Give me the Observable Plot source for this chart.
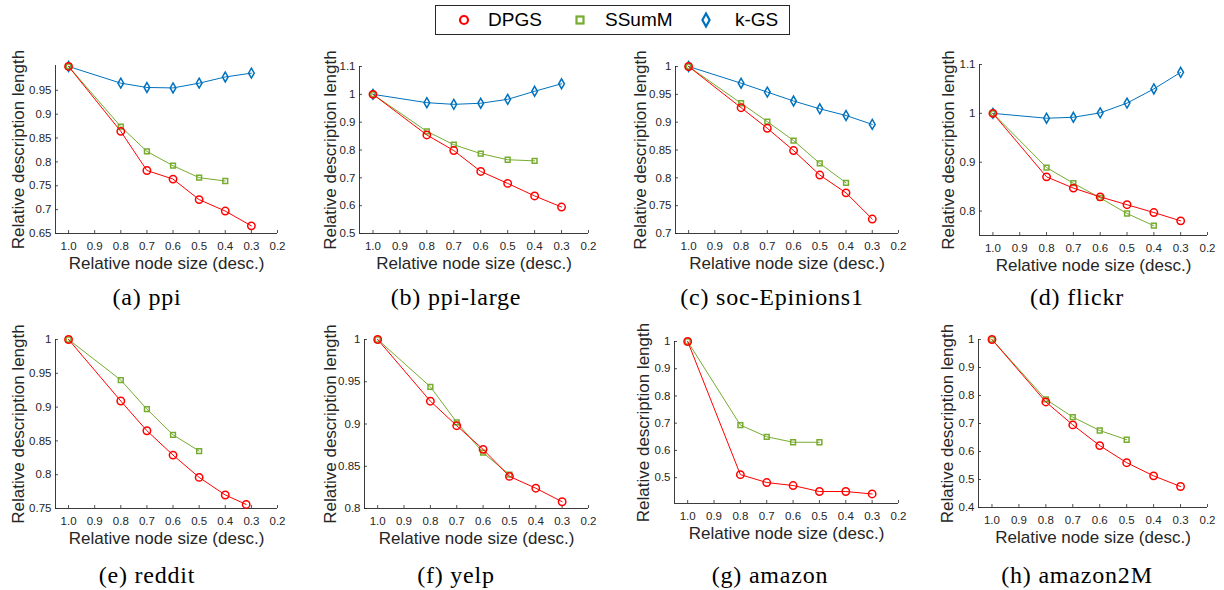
<!DOCTYPE html>
<html>
<head>
<meta charset="utf-8">
<script src="https://cdn.jsdelivr.net/npm/d3@7"></script>
<script src="https://cdn.jsdelivr.net/npm/@observablehq/plot@0.6"></script>
<style>
  html, body { margin: 0; padding: 0; background: #fff; }
  body { width: 1224px; height: 590px; position: relative; overflow: hidden; font-family: "Liberation Sans", Arial, sans-serif; }
  .panel { position: absolute; }
  .cap { position: absolute; font-family: "Liberation Serif", serif; font-size: 24px; line-height: 24px; letter-spacing: 0.8px; white-space: nowrap; transform: translateX(-50%); color: #000; }
  #legend { position: absolute; left: 435px; top: 5px; width: 353px; height: 28px; border: 1px solid #262626; background: #fff; }
  .litem { position: absolute; top: 0; height: 28px; line-height: 28px; font-size: 19px; color: #000; }
  .lsym { position: absolute; top: 5px; }
</style>
</head>
<body>
<div id="legend">
  <svg class="lsym" style="left:19px" width="18" height="18"><circle cx="9" cy="9" r="4" fill="none" stroke="#FF0000" stroke-width="2.2"/></svg>
  <span class="litem" style="left:52px">DPGS</span>
  <svg class="lsym" style="left:135px" width="18" height="18"><rect x="5.5" y="5.5" width="7" height="7" fill="none" stroke="#77AC30" stroke-width="2.2"/></svg>
  <span class="litem" style="left:169px">SSumM</span>
  <svg class="lsym" style="left:261px" width="18" height="18"><path d="M9,2.5 L12.6,9 L9,15.5 L5.4,9 Z" fill="none" stroke="#0072BD" stroke-width="2.2"/></svg>
  <span class="litem" style="left:299px">k-GS</span>
</div>
<script>
// ---------- data ----------
const datasets = ["ppi", "ppi-large", "soc-Epinions1", "flickr", "reddit", "yelp", "amazon", "amazon2M"];
const captionLetters = ["a", "b", "c", "d", "e", "f", "g", "h"];
const xSizes = [1.0, 0.8, 0.7, 0.6, 0.5, 0.4, 0.3];
const xSizesReddit = [1.0, 0.8, 0.7, 0.6, 0.5, 0.4, 0.32];
const xTicks = [1.0, 0.9, 0.8, 0.7, 0.6, 0.5, 0.4, 0.3, 0.2];

const dpgsPpi = [1, 0.864, 0.782, 0.764, 0.721, 0.697, 0.666];
const ssummPpi = [1, 0.874, 0.822, 0.792, 0.767, 0.760];
const kgsPpi = [1, 0.965, 0.956, 0.955, 0.965, 0.978, 0.986];

const dpgsPpiLarge = [1, 0.854, 0.798, 0.723, 0.680, 0.635, 0.595];
const ssummPpiLarge = [1, 0.867, 0.819, 0.787, 0.765, 0.761];
const kgsPpiLarge = [1, 0.970, 0.964, 0.968, 0.982, 1.011, 1.038];

const dpgsEpinions = [1, 0.926, 0.889, 0.849, 0.805, 0.773, 0.726];
const ssummEpinions = [1, 0.934, 0.901, 0.867, 0.826, 0.791];
const kgsEpinions = [1, 0.970, 0.954, 0.938, 0.924, 0.912, 0.896];

const dpgsFlickr = [1, 0.870, 0.847, 0.829, 0.813, 0.797, 0.780];
const ssummFlickr = [1, 0.889, 0.857, 0.827, 0.795, 0.770];
const kgsFlickr = [1, 0.990, 0.992, 1.001, 1.021, 1.050, 1.084];

const dpgsReddit = [1, 0.909, 0.865, 0.829, 0.796, 0.770, 0.756];
const ssummReddit = [1, 0.940, 0.897, 0.859, 0.835];

const dpgsYelp = [1, 0.927, 0.898, 0.870, 0.838, 0.824, 0.808];
const ssummYelp = [1, 0.944, 0.902, 0.866, 0.840];

const dpgsAmazon = [1, 0.511, 0.482, 0.471, 0.449, 0.449, 0.440];
const ssummAmazon = [1, 0.693, 0.650, 0.630, 0.630];

const dpgsAmazon2M = [1, 0.777, 0.695, 0.621, 0.560, 0.513, 0.475];
const ssummAmazon2M = [1, 0.786, 0.723, 0.675, 0.642];

const yTicksPpi = [0.65, 0.7, 0.75, 0.8, 0.85, 0.9, 0.95];
const yTicksPpiLarge = [0.5, 0.6, 0.7, 0.8, 0.9, 1, 1.1];
const yTicksEpinions = [0.7, 0.75, 0.8, 0.85, 0.9, 0.95, 1];
const yTicksFlickr = [0.8, 0.9, 1, 1.1];
const yTicksReddit = [0.75, 0.8, 0.85, 0.9, 0.95, 1];
const yTicksYelp = [0.8, 0.85, 0.9, 0.95, 1];
const yTicksAmazon = [0.5, 0.6, 0.7, 0.8, 0.9, 1];
const yTicksAmazon2M = [0.4, 0.5, 0.6, 0.7, 0.8, 0.9, 1];

const yDomains = [[0.65, 1.002], [0.5, 1.1], [0.7, 1], [0.75, 1.1], [0.75, 1], [0.8, 1], [0.405, 1], [0.4, 1]];

const xLabel = "Relative node size (desc.)";
const yLabel = "Relative description length";

// ---------- layout (page coordinates of each plot frame) ----------
const frames = [
  {l: 55,  r: 277,  t: 65,  b: 233, yl: 37, cx: 147,  cy: 285},
  {l: 359, r: 588,  t: 66,  b: 233, yl: 29, cx: 456,  cy: 285},
  {l: 675, r: 898,  t: 66,  b: 233, yl: 35, cx: 772,  cy: 285},
  {l: 979, r: 1207, t: 64,  b: 235, yl: 31, cx: 1077, cy: 285},
  {l: 55,  r: 277,  t: 339, b: 508, yl: 37, cx: 147,  cy: 563},
  {l: 364, r: 588,  t: 339, b: 508, yl: 34, cx: 456,  cy: 563},
  {l: 674, r: 898,  t: 341, b: 503, yl: 31, cx: 770,  cy: 563},
  {l: 978, r: 1207, t: 339, b: 507, yl: 31, cx: 1077, cy: 563}
];

const colors = {DPGS: "#FF0000", SSumM: "#77AC30", "k-GS": "#0072BD"};
const symbols = {DPGS: "circle", SSumM: "square", "k-GS": "diamond"};
const radii = {DPGS: 3.7, SSumM: 2.7, "k-GS": 3.0};

const seriesByPanel = [
  [["DPGS", xSizes, dpgsPpi], ["SSumM", xSizes, ssummPpi], ["k-GS", xSizes, kgsPpi]],
  [["DPGS", xSizes, dpgsPpiLarge], ["SSumM", xSizes, ssummPpiLarge], ["k-GS", xSizes, kgsPpiLarge]],
  [["DPGS", xSizes, dpgsEpinions], ["SSumM", xSizes, ssummEpinions], ["k-GS", xSizes, kgsEpinions]],
  [["DPGS", xSizes, dpgsFlickr], ["SSumM", xSizes, ssummFlickr], ["k-GS", xSizes, kgsFlickr]],
  [["DPGS", xSizesReddit, dpgsReddit], ["SSumM", xSizes, ssummReddit]],
  [["DPGS", xSizes, dpgsYelp], ["SSumM", xSizes, ssummYelp]],
  [["DPGS", xSizes, dpgsAmazon], ["SSumM", xSizes, ssummAmazon]],
  [["DPGS", xSizes, dpgsAmazon2M], ["SSumM", xSizes, ssummAmazon2M]]
];
const yTicksByPanel = [yTicksPpi, yTicksPpiLarge, yTicksEpinions, yTicksFlickr, yTicksReddit, yTicksYelp, yTicksAmazon, yTicksAmazon2M];

// ---------- drawing ----------
const mL = 50, mR = 14, mT = 8, mB = 45;
const axisColor = "#262626";

datasets.forEach((name, i) => {
  const f = frames[i];
  const fw = f.r - f.l, fh = f.b - f.t;
  const rows = [];
  seriesByPanel[i].forEach(([method, xs, ys]) => {
    ys.forEach((v, k) => rows.push({method, x: xs[k], y: v}));
  });
  const order = ["k-GS", "SSumM", "DPGS"];
  const marks = [];
  order.forEach(m => {
    const d = rows.filter(r => r.method === m);
    if (!d.length) return;
    marks.push(Plot.line(d, {x: "x", y: "y", stroke: colors[m], strokeWidth: 1}));
    marks.push(Plot.dot(d, {x: "x", y: "y", stroke: colors[m], symbol: symbols[m], r: radii[m], strokeWidth: 1.5, fill: "none"}));
  });
  const yT = yTicksByPanel[i];
  const plot = Plot.plot({
    width: fw + mL + mR,
    height: fh + mT + mB,
    marginLeft: mL, marginRight: mR, marginTop: mT, marginBottom: mB,
    style: {fontFamily: "'Liberation Sans', Arial, sans-serif", fontSize: "11.5px", background: "transparent", overflow: "visible", color: axisColor},
    x: {domain: [1.05, 0.2]},
    y: {domain: yDomains[i]},
    marks: [
      Plot.tickX(xTicks, {x: d => d, insetTop: fh - 3, stroke: axisColor, strokeWidth: 0.8}),
      Plot.tickY(yT, {y: d => d, insetRight: fw - 3, stroke: axisColor, strokeWidth: 0.8}),
      Plot.ruleY([yDomains[i][0]], {stroke: axisColor, strokeWidth: 0.9}),
      Plot.ruleX([1.05], {stroke: axisColor, strokeWidth: 0.9}),
      Plot.axisX({ticks: xTicks, tickSize: 0, tickPadding: 8, tickFormat: d3.format(".1f"), fontSize: 11.5, label: null, color: axisColor}),
      Plot.axisY({ticks: yT, tickSize: 0, tickPadding: 4, tickFormat: d => String(d), fontSize: 11.5, label: null, color: axisColor}),
      Plot.text([xLabel], {text: d => d, frameAnchor: "bottom", dy: 30, fontSize: 17, lineAnchor: "middle", fill: axisColor}),
      Plot.text([yLabel], {text: d => d, frameAnchor: "left", dx: -f.yl, rotate: -90, fontSize: 17, textAnchor: "middle", lineAnchor: "middle", fill: axisColor}),
      ...marks
    ]
  });
  const div = document.createElement("div");
  div.className = "panel";
  div.style.left = (f.l - mL) + "px";
  div.style.top = (f.t - mT) + "px";
  div.appendChild(plot);
  document.body.appendChild(div);

  const cap = document.createElement("div");
  cap.className = "cap";
  cap.style.left = f.cx + "px";
  cap.style.top = f.cy + "px";
  cap.textContent = "(" + captionLetters[i] + ") " + name;
  document.body.appendChild(cap);
});
</script>
</body>
</html>
